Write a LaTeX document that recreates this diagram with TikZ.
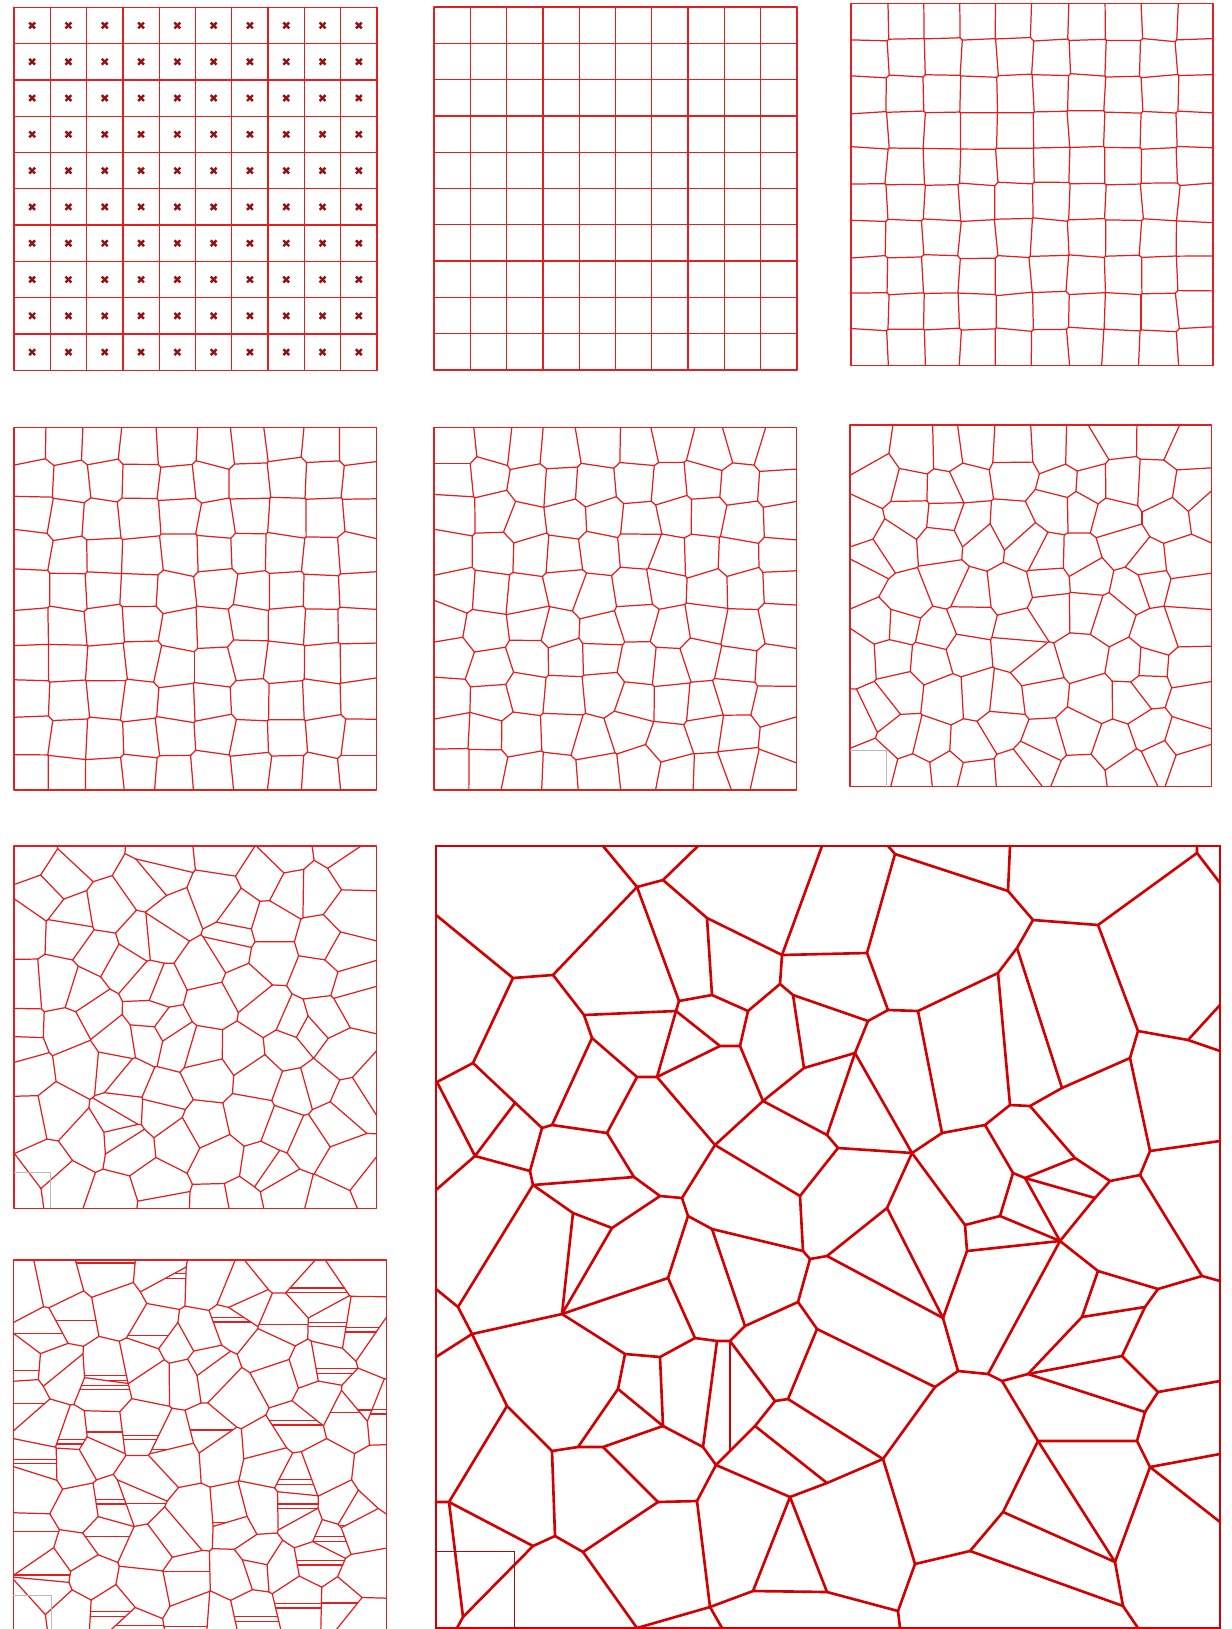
\documentclass[tikz,border=0pt]{standalone}
\usepackage{tikz}

\definecolor{cellred}{RGB}{226,30,30}
\definecolor{bigred}{RGB}{210,0,0}
\definecolor{markred}{RGB}{150,18,18}

\newcount\vorN \newcount\vorW
\newcount\vori \newcount\vorj \newcount\vordi \newcount\vordj
\newcount\vorti \newcount\vortj \newcount\vorki \newcount\vorkj
\newcount\vora \newcount\vorb \newcount\vorok
\newcount\vorqjx \newcount\vorqjy \newcount\vorqkx \newcount\vorqky
\newcount\vorA \newcount\vorB \newcount\vorT
\newcount\vortmin \newcount\vortmax \newcount\vorXo \newcount\vorYo
\newif\ifvorempty

\def\vorx#1#2{\csname vorx@\number#1:\number#2\endcsname}
\def\vory#1#2{\csname vory@\number#1:\number#2\endcsname}

\def\vorcut#1#2{%
  \vorA=\numexpr#1\relax
  \vorB=\numexpr#2\relax
  \ifnum\vorA=0
    \ifnum\vorB<0 \voremptytrue\fi
  \else
    \vorT=\ifnum\vorA<0 -\fi\vorA
    \multiply\vorT20
    \ifnum\ifnum\vorB<0 -\fi\vorB>\vorT
      \ifnum\vorB<0 \voremptytrue\fi
    \else
      \vorT=\numexpr\vorB*10000/\vorA\relax
      \ifnum\vorA>0
        \ifnum\vorT<\vortmax \vortmax=\vorT\fi
      \else
        \ifnum\vorT>\vortmin \vortmin=\vorT\fi
      \fi
    \fi
  \fi
  \ifnum\vortmin>\vortmax \voremptytrue\fi}

\def\vorkone{%
  \ifvorempty\else
    \vorki=\numexpr\vori+\vora\relax
    \vorkj=\numexpr\vorj+\vorb\relax
    \vorok=1
    \ifnum\vorki<0 \vorok=0 \fi
    \ifnum\vorkj<0 \vorok=0 \fi
    \ifnum\vorki<\vorN\else\vorok=0 \fi
    \ifnum\vorkj<\vorN\else\vorok=0 \fi
    \ifnum\vora=0 \ifnum\vorb=0 \vorok=0 \fi\fi
    \ifnum\vorki=\vorti \ifnum\vorkj=\vortj \vorok=0 \fi\fi
    \ifnum\vorok=1
      \vorqkx=\numexpr\vorx\vorki\vorkj-\vorx\vori\vorj\relax
      \vorqky=\numexpr\vory\vorki\vorkj-\vory\vori\vorj\relax
      \vorcut{2*(\vorqjx*\vorqky-\vorqjy*\vorqkx)}%
        {\vorqkx*\vorqkx+\vorqky*\vorqky-\vorqjx*\vorqkx-\vorqjy*\vorqky}%
    \fi
  \fi}

\def\vorchordkone{%
  \ifvorempty\else
    \vorki=\numexpr\vori+\vora\relax
    \vorkj=\numexpr\vorj+\vorb\relax
    \vorok=1
    \ifnum\vorki<0 \vorok=0 \fi
    \ifnum\vorkj<0 \vorok=0 \fi
    \ifnum\vorki<\vorN\else\vorok=0 \fi
    \ifnum\vorkj<\vorN\else\vorok=0 \fi
    \ifnum\vora=0 \ifnum\vorb=0 \vorok=0 \fi\fi
    \ifnum\vorok=1
      \vorqkx=\numexpr\vorx\vorki\vorkj-\vorx\vori\vorj\relax
      \vorqky=\numexpr\vory\vorki\vorkj-\vory\vori\vorj\relax
      \vorcut{2000*\vorqkx}{\vorqkx*\vorqkx+\vorqky*\vorqky-2*\vorqjy*\vorqky}%
    \fi
  \fi}

\def\vorkloop{%
  \ifnum\vorb<4
    \vorkstep
    \advance\vora1
    \ifnum\vora>3 \vora=-3 \advance\vorb1 \fi
    \expandafter\vorkloop
  \fi}

\def\vorpair{%
  \vorti=\numexpr\vori+\vordi\relax
  \vortj=\numexpr\vorj+\vordj\relax
  \voremptyfalse
  \ifnum\vorti<0 \voremptytrue\fi
  \ifnum\vorti<\vorN\else\voremptytrue\fi
  \ifnum\vortj<\vorN\else\voremptytrue\fi
  \ifvorempty\else
    \vorqjx=\numexpr\vorx\vorti\vortj-\vorx\vori\vorj\relax
    \vorqjy=\numexpr\vory\vorti\vortj-\vory\vori\vorj\relax
    \vorXo=\numexpr\vorx\vori\vorj+\vorqjx/2\relax
    \vorYo=\numexpr\vory\vori\vorj+\vorqjy/2\relax
    \vortmin=-200000 \vortmax=200000
    \vorcut{\vorqjy}{\vorXo}%
    \vorcut{-\vorqjy}{\vorW-\vorXo}%
    \vorcut{-\vorqjx}{\vorYo}%
    \vorcut{\vorqjx}{\vorW-\vorYo}%
    \vora=-3 \vorb=-3
    \vorkloop
    \ifvorempty\else
      \ifnum\numexpr\vortmax-\vortmin\relax>20
        \edef\vorxa{\the\numexpr\vorXo-\vortmin*\vorqjy/10000\relax}%
        \edef\vorya{\the\numexpr\vorYo+\vortmin*\vorqjx/10000\relax}%
        \edef\vorxb{\the\numexpr\vorXo-\vortmax*\vorqjy/10000\relax}%
        \edef\voryb{\the\numexpr\vorYo+\vortmax*\vorqjx/10000\relax}%
        \draw[cellline] (\vorxa,\vorya) -- (\vorxb,\voryb);
      \fi
    \fi
  \fi}

\def\vorpairloop{%
  \ifnum\vordj<3
    \vorpair
    \advance\vordi1
    \ifnum\vordi>2 \vordi=-2 \advance\vordj1 \fi
    \expandafter\vorpairloop
  \fi}

\def\voredgeloop{%
  \ifnum\vorj<\vorN
    \vordi=1 \vordj=0
    \vorpairloop
    \advance\vori1
    \ifnum\vori=\vorN \vori=0 \advance\vorj1 \fi
    \expandafter\voredgeloop
  \fi}

\def\vorsiteloop{%
  \ifnum\vorj<\vorN
    \pgfmathtruncatemacro\vorr{rand*\vorjit}%
    \expandafter\edef\csname vorx@\number\vori:\number\vorj\endcsname{\the\numexpr\vori*1000+500+\vorr\relax}%
    \pgfmathtruncatemacro\vorr{rand*\vorjit}%
    \expandafter\edef\csname vory@\number\vori:\number\vorj\endcsname{\the\numexpr\vorj*1000+500+\vorr\relax}%
    \advance\vori1
    \ifnum\vori=\vorN \vori=0 \advance\vorj1 \fi
    \expandafter\vorsiteloop
  \fi}

\def\vorchord{%
  \voremptyfalse
  \vortmin=-200000 \vortmax=200000
  \vorXo=\numexpr\vorx\vori\vorj\relax
  \vorcut{-1000}{\vorXo}%
  \vorcut{1000}{\vorW-\vorXo}%
  \vora=-3 \vorb=-3
  \vorkloop
  \ifvorempty\else
    \edef\vorxa{\the\numexpr\vorXo+\vortmin/10\relax}%
    \edef\vorxb{\the\numexpr\vorXo+\vortmax/10\relax}%
    \edef\vorya{\the\numexpr\vory\vori\vorj+\vorqjy\relax}%
    \draw[cellline] (\vorxa,\vorya) -- (\vorxb,\vorya);
  \fi}

\def\vorchordloop{%
  \ifnum\vorj<\vorN
    \pgfmathtruncatemacro\vorr{rnd*100}%
    \ifnum\vorr<\vorchordpct
      \pgfmathtruncatemacro\vorr{rand*260}%
      \vorqjy=\vorr\relax
      \vorchord
      \pgfmathtruncatemacro\vorr{rnd*100}%
      \ifnum\vorr<40
        \advance\vorqjy 120
        \vorchord
      \fi
    \fi
    \advance\vori1
    \ifnum\vori=\vorN \vori=0 \advance\vorj1 \fi
    \expandafter\vorchordloop
  \fi}

\newcommand\vorpanel[3]{%
  \pgfmathsetseed{#3}%
  \def\vorjit{#2}%
  \let\vorkstep\vorkone
  \vorN=#1 \vorW=\numexpr#1*1000\relax
  \vori=0 \vorj=0 \vorsiteloop
  \vori=0 \vorj=0 \voredgeloop}

\newcommand\vorchords[2]{%
  \def\vorchordpct{#1}%
  \pgfmathsetseed{#2}%
  \let\vorkstep\vorchordkone
  \vori=0 \vorj=0 \vorchordloop}

\begin{document}
\begin{tikzpicture}[
  x=0.2mm, y=-0.2mm,
  cellline/.style={draw=cellred, line width=0.7pt, line cap=round, line join=round},
  bigline/.style={draw=bigred, line width=1.5pt, line cap=round, line join=round},
  bigframe/.style={draw=bigred, line width=1.2pt},
  xmark/.style={draw=markred, line width=1.4pt},
  corner/.style={draw=gray!55, line width=0.4pt}
]
\useasboundingbox (0,0) rectangle (1231,1629);

\begin{scope}[shift={(14,7.3)}, scale=36.3]
  \foreach \k in {0,...,10} {
    \draw[cellline] (\k,0) -- (\k,10);
    \draw[cellline] (0,\k) -- (10,\k);
  }
  \foreach \i in {0,...,9}
    \foreach \j in {0,...,9} {
      \draw[xmark] (\i+0.42,\j+0.42) -- (\i+0.58,\j+0.58);
      \draw[xmark] (\i+0.42,\j+0.58) -- (\i+0.58,\j+0.42);
    }
\end{scope}

\begin{scope}[shift={(434,7)}, scale=36.3]
  \foreach \k in {0,...,10} {
    \draw[cellline] (\k,0) -- (\k,10);
    \draw[cellline] (0,\k) -- (10,\k);
  }
\end{scope}

\begin{scope}[shift={(851,3.3)}, scale=0.0362]
  \begin{scope}
    \clip (0,0) rectangle (10000,10000);
    \vorpanel{10}{60}{11}
  \end{scope}
  \draw[cellline] (0,0) rectangle (10000,10000);
\end{scope}

\begin{scope}[shift={(14,427.3)}, scale=0.03627]
  \begin{scope}
    \clip (0,0) rectangle (10000,10000);
    \vorpanel{10}{130}{23}
  \end{scope}
  \draw[cellline] (0,0) rectangle (10000,10000);
\end{scope}

\begin{scope}[shift={(434,427.3)}, scale=0.03627]
  \begin{scope}
    \clip (0,0) rectangle (10000,10000);
    \vorpanel{10}{210}{37}
  \end{scope}
  \draw[cellline] (0,0) rectangle (10000,10000);
\end{scope}

\begin{scope}[shift={(850,425)}, scale=0.03617]
  \begin{scope}
    \clip (0,0) rectangle (10000,10000);
    \vorpanel{10}{380}{41}
  \end{scope}
  \draw[cellline] (0,0) rectangle (10000,10000);
\end{scope}
\draw[corner] (850,750) -| (886.7,786.7);

\begin{scope}[shift={(14,846)}, scale=0.03627]
  \begin{scope}
    \clip (0,0) rectangle (10000,10000);
    \vorpanel{10}{500}{53}
  \end{scope}
  \draw[cellline] (0,0) rectangle (10000,10000);
\end{scope}
\draw[corner] (14,1172.7) -| (50.7,1208.3);

\begin{scope}[shift={(13.3,1260)}, scale=0.03734]
  \begin{scope}
    \clip (0,0) rectangle (10000,10000);
    \vorpanel{10}{500}{67}
    \vorchords{45}{5}
  \end{scope}
  \draw[cellline] (0,0) rectangle (10000,10000);
\end{scope}
\draw[corner] (13.3,1595) -| (51.7,1629);

\coordinate (a1) at (603,846);  \coordinate (a2) at (637,887);  \coordinate (a3) at (663,880);
\coordinate (a4) at (698,846);  \coordinate (a5) at (707,918);  \coordinate (a6) at (782,955);
\coordinate (a7) at (822,846);  \coordinate (a8) at (867,953);
\coordinate (b1) at (436,915);  \coordinate (b2) at (513,978);  \coordinate (b3) at (553,975);
\coordinate (b4) at (679,1001); \coordinate (b5) at (712,995);  \coordinate (b6) at (780,984);
\coordinate (b7) at (748,1011); \coordinate (b8) at (793,995);  \coordinate (b9) at (868,1021);
\coordinate (b10) at (676,1011); \coordinate (b11) at (584,1015); \coordinate (b12) at (592,1038);
\coordinate (b13) at (720,1046); \coordinate (b14) at (740,1046); \coordinate (b15) at (657,1077);
\coordinate (b16) at (637,1077); \coordinate (b17) at (763,1101); \coordinate (b18) at (827,1135);
\coordinate (b19) at (715,1145); \coordinate (b20) at (800,1196); \coordinate (b21) at (838,1148);
\coordinate (c1) at (804,1068); \coordinate (c2) at (855,1053);
\coordinate (d1) at (473,1063); \coordinate (d2) at (437,1082); \coordinate (d3) at (542,1128);
\coordinate (d4) at (552,1125); \coordinate (d5) at (607,1133); \coordinate (d7) at (475,1156);
\coordinate (d8) at (515,1103); \coordinate (d9) at (436,1190); \coordinate (d10) at (530,1171);
\coordinate (d11) at (533,1185); \coordinate (d12) at (634,1177); \coordinate (d13) at (660,1196);
\coordinate (d14) at (682,1198); \coordinate (d15) at (688,1216); \coordinate (d16) at (573,1213);
\coordinate (d17) at (612,1228);
\coordinate (e1) at (458,1307); \coordinate (e2) at (436,1289); \coordinate (e3) at (472,1334);
\coordinate (e4) at (436,1357); \coordinate (e5) at (562,1314); \coordinate (e6) at (668,1278);
\coordinate (e7) at (695,1338); \coordinate (e8) at (717,1341); \coordinate (e9) at (730,1341);
\coordinate (e10) at (745,1326); \coordinate (e11) at (712,1229); \coordinate (e12) at (803,1251);
\coordinate (e13) at (810,1259); \coordinate (e14) at (798,1302); \coordinate (e15) at (817,1329);
\coordinate (e16) at (788,1399); \coordinate (e17) at (775,1401); \coordinate (e18) at (755,1426);
\coordinate (e20) at (730,1451); \coordinate (e21) at (703,1447); \coordinate (v1) at (716,1465);
\coordinate (e23) at (660,1357); \coordinate (e24) at (625,1354); \coordinate (e25) at (618,1389);
\coordinate (e26) at (663,1426); \coordinate (e27) at (578,1447); \coordinate (e28) at (603,1447);
\coordinate (e29) at (552,1451); \coordinate (e30) at (507,1406); \coordinate (e31) at (449,1502);
\coordinate (e32) at (436,1502); \coordinate (e33) at (533,1546); \coordinate (e34) at (463,1617);
\coordinate (e35) at (555,1536); \coordinate (e36) at (583,1552); \coordinate (e37) at (637,1628);
\coordinate (e38) at (658,1502); \coordinate (e39) at (697,1501); \coordinate (e40) at (710,1607);
\coordinate (e41) at (753,1591); \coordinate (e42) at (722,1628); \coordinate (e43) at (790,1497);
\coordinate (e44) at (827,1592); \coordinate (e45) at (457,1628);
\coordinate (g1) at (827,1483); \coordinate (g2) at (887,1208); \coordinate (g3) at (965,1225);
\coordinate (g4) at (1000,1216); \coordinate (g5) at (1013,1173); \coordinate (g6) at (1025,1178);
\coordinate (g7) at (1075,1158); \coordinate (g8) at (1095,1198); \coordinate (g9) at (1110,1181);
\coordinate (g10) at (1140,1175); \coordinate (g11) at (1150,1151); \coordinate (g12) at (1220,1141);
\coordinate (f0) at (827,1256); \coordinate (f1) at (883,1459); \coordinate (f2) at (935,1387);
\coordinate (f3) at (958,1371); \coordinate (f4) at (943,1318); \coordinate (f5) at (967,1251);
\coordinate (f6) at (1060,1241); \coordinate (f8) at (1098,1271); \coordinate (f9) at (1158,1289);
\coordinate (f10) at (1202,1276); \coordinate (f11) at (1220,1281); \coordinate (f13) at (1082,1317);
\coordinate (f14) at (1145,1307); \coordinate (f15) at (1122,1356); \coordinate (f16) at (988,1374);
\coordinate (f17) at (1002,1381); \coordinate (f18) at (1028,1374); \coordinate (f19) at (1158,1392);
\coordinate (f20) at (1220,1381); \coordinate (f21) at (1145,1412); \coordinate (f22) at (1137,1441);
\coordinate (f23) at (1038,1441); \coordinate (f24) at (1150,1467); \coordinate (f25) at (1220,1454);
\coordinate (f26) at (1220,1522); \coordinate (f27) at (1115,1562); \coordinate (f28) at (1003,1512);
\coordinate (f29) at (970,1551); \coordinate (f30) at (1123,1606); \coordinate (f31) at (1138,1628);
\coordinate (f32) at (915,1564); \coordinate (f33) at (898,1611); \coordinate (f34) at (900,1628);
\coordinate (h1) at (888,846);  \coordinate (h2) at (895,854);  \coordinate (h3) at (1008,891);
\coordinate (h4) at (1010,846); \coordinate (h5) at (1033,920); \coordinate (h6) at (1098,925);
\coordinate (h7) at (1197,853); \coordinate (h8) at (1197,846); \coordinate (h9) at (1220,883);
\coordinate (h10) at (888,1010); \coordinate (h11) at (918,1011); \coordinate (h12) at (998,973);
\coordinate (h13) at (1017,948); \coordinate (h14) at (942,1133); \coordinate (h15) at (1010,1105);
\coordinate (h16) at (1062,1088); \coordinate (h17) at (1138,1031); \coordinate (h18) at (1188,1040);
\coordinate (h19) at (1220,1005); \coordinate (h20) at (1220,1051); \coordinate (h21) at (1130,1058);
\coordinate (h22) at (1030,1106); \coordinate (h23) at (985,1125); \coordinate (r2) at (912,1153);

\draw[bigline] (a1) -- (a2) -- (a3) -- (a4);
\draw[bigline] (a3) -- (a5) -- (a6) -- (a7);
\draw[bigline] (a6) -- (b6) -- (b8) -- (b9);
\draw[bigline] (b1) -- (b2) -- (b3) -- (a2) -- (b4) -- (b5) -- (a5);
\draw[bigline] (b5) -- (b7) -- (b6);
\draw[bigline] (b8) -- (c1) -- (c2);
\draw[bigline] (c1) -- (b17) -- (b18) -- (c2);
\draw[bigline] (a6) -- (a8) -- (h2) -- (h1);
\draw[bigline] (h2) -- (h3) -- (h4);
\draw[bigline] (h3) -- (h5) -- (h6) -- (h7) -- (h8);
\draw[bigline] (h7) -- (h9);
\draw[bigline] (a8) -- (h10) -- (b9) -- (c2);
\draw[bigline] (h10) -- (h11) -- (h12) -- (h13) -- (h5);
\draw[bigline] (c2) -- (r2) -- (b21) -- (b18);
\draw[bigline] (r2) -- (h14) -- (h11);
\draw[bigline] (h14) -- (h23) -- (h15) -- (h12);
\draw[bigline] (h23) -- (g5);
\draw[bigline] (h15) -- (h22) -- (h16) -- (h13);
\draw[bigline] (h16) -- (h21) -- (h17) -- (h6);
\draw[bigline] (h17) -- (h18) -- (h19);
\draw[bigline] (h18) -- (h20);
\draw[bigline] (h21) -- (g11) -- (g12);
\draw[bigline] (g11) -- (g10) -- (g9) -- (g8) -- (f6);
\draw[bigline] (h22) -- (g7) -- (g9);
\draw[bigline] (g7) -- (g6) -- (g5) -- (g4) -- (g3) -- (r2);
\draw[bigline] (g6) -- (g8);
\draw[bigline] (g6) -- (f6);
\draw[bigline] (g4) -- (f6);
\draw[bigline] (r2) -- (g2);
\draw[bigline] (g10) -- (f10);
\draw[bigline] (b4) -- (b10) -- (b11) -- (b3);
\draw[bigline] (b11) -- (b12) -- (b16) -- (b15) -- (b10);
\draw[bigline] (b10) -- (b13) -- (b14) -- (b7);
\draw[bigline] (b15) -- (b13);
\draw[bigline] (b14) -- (b17);
\draw[bigline] (b15) -- (b19) -- (b17);
\draw[bigline] (b19) -- (b20) -- (b21);
\draw[bigline] (b19) -- (d14);
\draw[bigline] (b20) -- (e12);
\draw[bigline] (b2) -- (d1) -- (d2);
\draw[bigline] (d1) -- (d3);
\draw[bigline] (d2) -- (d7) -- (d8);
\draw[bigline] (d7) -- (d9);
\draw[bigline] (d7) -- (d10) -- (d3) -- (d4) -- (b12);
\draw[bigline] (d4) -- (d5) -- (b16);
\draw[bigline] (d10) -- (d11) -- (d12) -- (d5);
\draw[bigline] (d12) -- (d13) -- (d14) -- (d15) -- (e11);
\draw[bigline] (d15) -- (e6);
\draw[bigline] (d11) -- (d16) -- (d17) -- (d13);
\draw[bigline] (d16) -- (e5) -- (d17);
\draw[bigline] (d11) -- (e1);
\draw[bigline] (e2) -- (e1) -- (e3) -- (e4);
\draw[bigline] (e3) -- (e5) -- (e6) -- (e7) -- (e8) -- (e9) -- (e10) -- (e11);
\draw[bigline] (e11) -- (e12) -- (e13) -- (e14) -- (e10);
\draw[bigline] (e13) -- (f0);
\draw[bigline] (e14) -- (e15) -- (e16) -- (e17) -- (e9);
\draw[bigline] (e17) -- (e18) -- (e20) -- (v1);
\draw[bigline] (e9) -- (e20);
\draw[bigline] (e8) -- (e21) -- (v1);
\draw[bigline] (e15) -- (f2);
\draw[bigline] (e16) -- (f1);
\draw[bigline] (e18) -- (g1) -- (f1);
\draw[bigline] (e7) -- (e23) -- (e24) -- (e5);
\draw[bigline] (e24) -- (e25) -- (e26) -- (e23);
\draw[bigline] (e26) -- (e21);
\draw[bigline] (e25) -- (e27) -- (e28) -- (e26);
\draw[bigline] (e27) -- (e29) -- (e30) -- (e3);
\draw[bigline] (e30) -- (e31) -- (e32);
\draw[bigline] (e31) -- (e33);
\draw[bigline] (e31) -- (e34) -- (e33);
\draw[bigline] (e34) -- (e45);
\draw[bigline] (e33) -- (e35) -- (e29);
\draw[bigline] (e35) -- (e36) -- (e37);
\draw[bigline] (e36) -- (e38) -- (e28);
\draw[bigline] (e38) -- (e39) -- (v1);
\draw[bigline] (e39) -- (e40) -- (e37);
\draw[bigline] (e40) -- (e41) -- (e43) -- (v1);
\draw[bigline] (e40) -- (e42);
\draw[bigline] (e41) -- (e44) -- (e43);
\draw[bigline] (e43) -- (g1);
\draw[bigline] (e44) -- (f33);
\draw[bigline] (f0) -- (f4);
\draw[bigline] (f0) -- (g2) -- (f4);
\draw[bigline] (f4) -- (f3) -- (f2) -- (f1);
\draw[bigline] (f3) -- (f16);
\draw[bigline] (g3) -- (f5) -- (f4);
\draw[bigline] (f5) -- (f6);
\draw[bigline] (f6) -- (f8) -- (f9) -- (f10) -- (f11);
\draw[bigline] (f6) -- (f16) -- (f17) -- (f18) -- (f13) -- (f8);
\draw[bigline] (f9) -- (f14) -- (f13);
\draw[bigline] (f14) -- (f15) -- (f18);
\draw[bigline] (f15) -- (f19) -- (f20);
\draw[bigline] (f19) -- (f21) -- (f18);
\draw[bigline] (f21) -- (f22) -- (f23) -- (f17);
\draw[bigline] (f22) -- (f24) -- (f25);
\draw[bigline] (f24) -- (f26);
\draw[bigline] (f24) -- (f27) -- (f23);
\draw[bigline] (f23) -- (f28) -- (f27);
\draw[bigline] (f28) -- (f29) -- (f30) -- (f27);
\draw[bigline] (f30) -- (f31);
\draw[bigline] (f29) -- (f32) -- (f1);
\draw[bigline] (f32) -- (f33) -- (f34);
\draw[bigframe] (436,846) rectangle (1220,1628);
\draw[draw=markred, line width=0.4pt] (436,1551) -| (514,1628);
\end{tikzpicture}
\end{document}
